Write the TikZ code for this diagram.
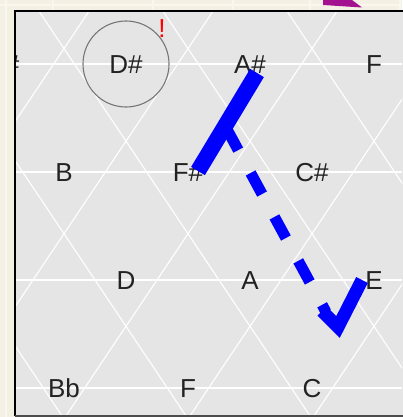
\documentclass[tikz,border=0pt]{standalone}
\usepackage{fontspec}
\setmainfont{Liberation Sans}
\definecolor{cream}{HTML}{F4F0E3}
\definecolor{creamline}{HTML}{FAF7EE}
\definecolor{panel}{HTML}{E5E5E5}
\definecolor{purp}{HTML}{A3128F}
\definecolor{ringgray}{HTML}{767676}
\definecolor{labeltext}{HTML}{222222}
\begin{document}
\begin{tikzpicture}[x=1pt,y=-1pt,
  lbl/.style={font=\fontsize{26}{30}\selectfont, inner sep=0pt, anchor=base, text=labeltext},
  hline/.style={white, line width=2pt},
  dline/.style={white, line width=1.1pt},
  solidstroke/.style={blue, line width=16pt},
  dashstroke/.style={blue, line width=11pt, dash pattern=on 24pt off 26pt},
  checkstroke/.style={blue, line width=13pt, line join=miter, miter limit=4}]
\useasboundingbox (0,0) rectangle (402,417);
% outer background
\fill[cream] (0,0) rectangle (402,417);
\foreach \gx in {6,53,153,233,310,400} \draw[creamline, line width=1.5pt] (\gx,0) -- (\gx,417);
\draw[creamline, line width=1.5pt] (0,5) -- (402,5);
% purple fragment
\fill[purp] (323,0) -- (323,5) -- (362,7.5) -- (352,0) -- cycle;
% panel
\fill[panel] (15,11) rectangle (410,416);
\begin{scope}
  \clip (16,12) rectangle (402,415.5);
  \foreach \yy in {64,172,280,388} \draw[hline] (0,\yy) -- (402,\yy);
  \foreach \k in {-3,...,6} {
    \draw[dline] ({2+124*\k-124},-44) -- ({2+124*\k+310},604);
    \draw[dline] ({2+124*\k+124},-44) -- ({2+124*\k-310},604);
  }
  \node[lbl] (Gs) at (2,73.3) {G\#};
\end{scope}
\draw[black, line width=2pt] (15,416) -- (15,11) -- (403,11);
\draw[black!70, line width=1.5pt] (15,416.2) -- (403,416.2);
% ring and mark
\node[circle, draw=ringgray, line width=1.1pt, minimum size=86pt, inner sep=0pt] (ring) at (126,64) {};
\node[lbl, text=red] (bang) at (162,38) {!};
% labels
\node[lbl] (Ds) at (126,73.3) {D\#};
\node[lbl] (As) at (250,73.3) {A\#};
\node[lbl] (Fa) at (374,73.3) {F};
\node[lbl] (B)  at (64,181.3) {B};
\node[lbl] (Fs) at (188,181.3) {F\#};
\node[lbl] (Cs) at (312,181.3) {C\#};
\node[lbl] (D)  at (126,289.3) {D};
\node[lbl] (A)  at (250,289.3) {A};
\node[lbl] (E)  at (374,289.3) {E};
\node[lbl] (Bb) at (64,397.3) {Bb};
\node[lbl] (Fb) at (188,397.3) {F};
\node[lbl] (C)  at (312,397.3) {C};
% blue strokes
\coordinate (p1) at (257,73);
\coordinate (p2) at (198,171);
\coordinate (q1) at (226.8,129);
\coordinate (q2) at (326,312);
\coordinate (c1) at (322,311);
\coordinate (c2) at (338,327);
\coordinate (c3) at (362,280);
\draw[dashstroke] (q1) -- (q2);
\draw[solidstroke] (p1) -- (p2);
\draw[checkstroke] (c1) -- (c2) -- (c3);
\end{tikzpicture}
\end{document}
